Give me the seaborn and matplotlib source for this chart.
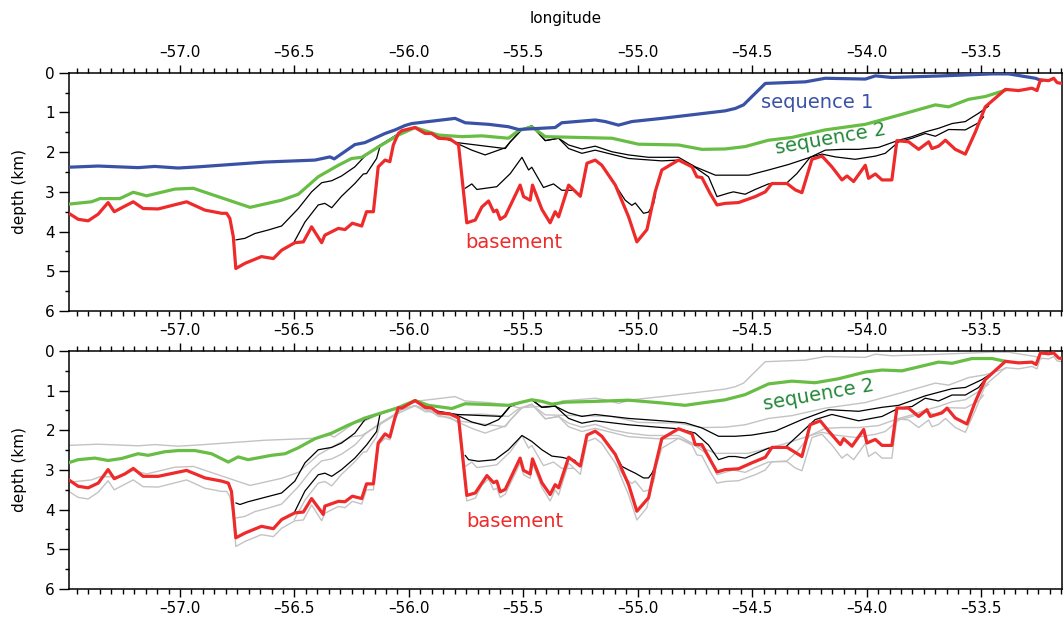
import matplotlib
matplotlib.use("Agg")
import matplotlib.pyplot as plt
from matplotlib.ticker import MultipleLocator
import pandas as pd
import seaborn as sns

# ---- data: (longitude, depth km) ----
top_seq1 = [(-57.488, 2.38), (-57.357, 2.35), (-57.183, 2.39), (-57.110, 2.36), (-57.008, 2.40),
            (-56.920, 2.37), (-56.775, 2.31), (-56.629, 2.25), (-56.410, 2.20), (-56.345, 2.12),
            (-56.326, 2.17), (-56.236, 1.81), (-56.192, 1.76), (-56.104, 1.53), (-56.060, 1.44),
            (-56.017, 1.33), (-55.987, 1.28), (-55.885, 1.21), (-55.798, 1.15), (-55.754, 1.26),
            (-55.652, 1.30), (-55.565, 1.36), (-55.521, 1.43), (-55.361, 1.38), (-55.332, 1.26),
            (-55.186, 1.19), (-55.142, 1.23), (-55.084, 1.32), (-55.026, 1.23), (-54.895, 1.15),
            (-54.749, 1.05), (-54.618, 0.96), (-54.574, 0.90), (-54.538, 0.81), (-54.443, 0.27),
            (-54.356, 0.25), (-54.268, 0.23), (-54.181, 0.14), (-54.006, 0.16), (-53.962, 0.08),
            (-53.890, 0.12), (-53.671, 0.08), (-53.452, 0.03), (-53.380, 0.03), (-53.263, 0.14),
            (-53.235, 0.20)]

top_seq2 = [(-57.488, 3.31), (-57.386, 3.25), (-57.350, 3.17), (-57.263, 3.17), (-57.204, 3.01),
            (-57.146, 3.10), (-57.022, 2.93), (-56.942, 2.91), (-56.694, 3.39), (-56.556, 3.21),
            (-56.483, 3.06), (-56.396, 2.62), (-56.308, 2.33), (-56.250, 2.16), (-56.206, 2.13),
            (-56.119, 1.82), (-56.046, 1.57), (-55.973, 1.38), (-55.871, 1.57), (-55.769, 1.61),
            (-55.681, 1.59), (-55.565, 1.65), (-55.521, 1.46), (-55.463, 1.36), (-55.404, 1.61),
            (-55.186, 1.64), (-55.113, 1.65), (-54.997, 1.80), (-54.822, 1.82), (-54.720, 1.93),
            (-54.618, 1.92), (-54.531, 1.86), (-54.429, 1.70), (-54.327, 1.63), (-54.181, 1.44),
            (-54.006, 1.30), (-53.860, 1.07), (-53.700, 0.81), (-53.642, 0.86), (-53.555, 0.67),
            (-53.482, 0.60), (-53.394, 0.44)]

top_base = [(-57.488, 3.53), (-57.445, 3.69), (-57.401, 3.73), (-57.357, 3.56), (-57.314, 3.27),
            (-57.287, 3.50), (-57.241, 3.36), (-57.204, 3.25), (-57.161, 3.42), (-57.095, 3.43),
            (-56.971, 3.25), (-56.891, 3.46), (-56.818, 3.54), (-56.796, 3.54), (-56.782, 3.67),
            (-56.767, 4.13), (-56.756, 4.93), (-56.716, 4.80), (-56.644, 4.63), (-56.592, 4.68),
            (-56.556, 4.47), (-56.498, 4.28), (-56.461, 4.26), (-56.425, 3.88), (-56.381, 4.28),
            (-56.367, 4.09), (-56.308, 3.92), (-56.279, 3.95), (-56.247, 3.79), (-56.206, 3.86),
            (-56.185, 3.50), (-56.155, 3.50), (-56.134, 2.37), (-56.104, 2.20), (-56.083, 2.24),
            (-56.068, 1.82), (-56.046, 1.53), (-56.031, 1.46), (-55.973, 1.38), (-55.929, 1.53),
            (-55.900, 1.53), (-55.871, 1.65), (-55.820, 1.67), (-55.783, 1.82), (-55.747, 3.78),
            (-55.710, 3.71), (-55.681, 3.38), (-55.652, 3.23), (-55.630, 3.50), (-55.616, 3.46),
            (-55.601, 3.69), (-55.579, 3.61), (-55.514, 2.83), (-55.499, 3.12), (-55.470, 3.21),
            (-55.460, 2.83), (-55.419, 3.44), (-55.383, 3.78), (-55.361, 3.50), (-55.346, 3.63),
            (-55.302, 2.83), (-55.251, 3.11), (-55.222, 2.28), (-55.186, 2.20), (-55.157, 2.33),
            (-55.098, 2.83), (-55.040, 3.63), (-55.004, 4.26), (-54.960, 3.95), (-54.924, 3.00),
            (-54.895, 2.45), (-54.822, 2.20), (-54.763, 2.37), (-54.742, 2.62), (-54.720, 2.64),
            (-54.684, 3.04), (-54.654, 3.33), (-54.618, 3.29), (-54.560, 3.27), (-54.487, 3.12),
            (-54.443, 3.00), (-54.414, 2.79), (-54.348, 2.79), (-54.312, 2.95), (-54.283, 3.02),
            (-54.239, 2.18), (-54.195, 2.10), (-54.152, 2.37), (-54.108, 2.70), (-54.086, 2.60),
            (-54.057, 2.74), (-54.006, 2.33), (-53.992, 2.66), (-53.962, 2.55), (-53.933, 2.70),
            (-53.890, 2.70), (-53.868, 1.71), (-53.817, 1.74), (-53.773, 1.93), (-53.729, 1.74),
            (-53.715, 1.91), (-53.686, 1.85), (-53.656, 1.70), (-53.613, 1.93), (-53.569, 2.05),
            (-53.525, 1.49), (-53.482, 0.86), (-53.394, 0.42), (-53.336, 0.45), (-53.278, 0.39),
            (-53.256, 0.45), (-53.241, 0.18), (-53.205, 0.20), (-53.183, 0.14), (-53.168, 0.25),
            (-53.147, 0.27)]

top_h1 = [(-56.756, 4.21), (-56.716, 4.17), (-56.673, 4.05), (-56.614, 3.96), (-56.556, 3.86),
          (-56.483, 3.42), (-56.425, 3.00), (-56.381, 2.77), (-56.337, 2.72), (-56.294, 2.60),
          (-56.236, 2.37), (-56.192, 2.10), (-56.134, 1.85), (-56.046, 1.54), (-56.031, 1.48),
          (-55.973, 1.38)]
top_h2 = [(-56.501, 4.26), (-56.454, 3.76), (-56.396, 3.33), (-56.367, 3.29), (-56.337, 3.40),
          (-56.294, 3.11), (-56.236, 2.79), (-56.199, 2.55), (-56.185, 2.54), (-56.141, 2.16),
          (-56.126, 1.85), (-56.046, 1.54)]
top_h3 = [(-55.973, 1.38), (-55.871, 1.61), (-55.790, 1.76), (-55.579, 1.91), (-55.557, 1.74),
          (-55.506, 1.43), (-55.463, 1.34), (-55.404, 1.71), (-55.346, 1.65), (-55.302, 1.82),
          (-55.244, 1.92), (-55.186, 1.85), (-55.113, 1.99), (-55.040, 2.07), (-54.953, 2.13),
          (-54.822, 2.13), (-54.749, 2.37), (-54.661, 2.58), (-54.574, 2.58), (-54.516, 2.58),
          (-54.429, 2.45), (-54.341, 2.31), (-54.247, 2.13), (-54.181, 1.95), (-54.108, 1.93),
          (-54.035, 1.93), (-53.948, 1.88), (-53.860, 1.70), (-53.802, 1.61), (-53.744, 1.49),
          (-53.686, 1.40), (-53.627, 1.28), (-53.569, 1.23), (-53.511, 1.02), (-53.467, 0.84)]
top_h4 = [(-55.790, 1.78), (-55.725, 1.95), (-55.667, 2.07), (-55.579, 1.89), (-55.557, 1.74),
          (-55.506, 1.43), (-55.463, 1.34), (-55.404, 1.71), (-55.346, 1.65), (-55.302, 1.91),
          (-55.244, 2.03), (-55.186, 1.95), (-55.040, 2.16), (-54.895, 2.22), (-54.822, 2.20),
          (-54.763, 2.33), (-54.691, 2.62), (-54.654, 3.12), (-54.603, 3.03), (-54.582, 3.00),
          (-54.531, 3.06), (-54.487, 2.94), (-54.429, 2.80), (-54.348, 2.77), (-54.305, 2.54),
          (-54.247, 2.13), (-54.195, 2.05), (-54.137, 2.12), (-54.050, 2.18), (-53.962, 2.10),
          (-53.919, 2.03), (-53.860, 1.74), (-53.802, 1.65), (-53.744, 1.53), (-53.700, 1.60),
          (-53.642, 1.43), (-53.569, 1.44), (-53.511, 1.26), (-53.489, 1.11)]
top_h5 = [(-55.754, 2.91), (-55.725, 2.80), (-55.703, 2.94), (-55.616, 2.87), (-55.557, 2.54),
          (-55.506, 2.13), (-55.477, 2.45), (-55.463, 2.38), (-55.412, 2.89), (-55.368, 2.80),
          (-55.332, 2.96), (-55.281, 2.96)]
top_h6 = [(-55.098, 2.83), (-55.055, 3.21), (-55.026, 3.34), (-55.011, 3.28), (-54.975, 3.54),
          (-54.953, 3.51), (-54.931, 3.30), (-54.922, 3.05)]

bot_seq2 = [(-57.488, 2.82), (-57.445, 2.74), (-57.372, 2.70), (-57.314, 2.76), (-57.255, 2.71),
            (-57.183, 2.59), (-57.139, 2.63), (-57.066, 2.54), (-57.008, 2.51), (-56.935, 2.51),
            (-56.862, 2.59), (-56.789, 2.80), (-56.746, 2.67), (-56.702, 2.74), (-56.600, 2.63),
            (-56.541, 2.59), (-56.483, 2.44), (-56.410, 2.21), (-56.337, 2.07), (-56.265, 1.87),
            (-56.192, 1.69), (-56.119, 1.56), (-56.046, 1.43), (-55.973, 1.25), (-55.914, 1.37),
            (-55.812, 1.45), (-55.754, 1.33), (-55.652, 1.35), (-55.565, 1.37), (-55.463, 1.23),
            (-55.419, 1.27), (-55.375, 1.34), (-55.317, 1.29), (-55.186, 1.27), (-55.040, 1.24),
            (-54.895, 1.31), (-54.793, 1.37), (-54.720, 1.31), (-54.618, 1.23), (-54.531, 1.10),
            (-54.429, 0.83), (-54.327, 0.76), (-54.225, 0.80), (-54.123, 0.70), (-54.006, 0.53),
            (-53.933, 0.48), (-53.846, 0.50), (-53.686, 0.28), (-53.627, 0.31), (-53.540, 0.19),
            (-53.452, 0.19), (-53.394, 0.26)]

bot_base = [(-57.488, 3.24), (-57.445, 3.41), (-57.401, 3.45), (-57.357, 3.33), (-57.314, 2.99),
            (-57.287, 3.22), (-57.241, 3.10), (-57.204, 2.96), (-57.161, 3.16), (-57.095, 3.16),
            (-56.971, 3.01), (-56.891, 3.20), (-56.818, 3.28), (-56.789, 3.33), (-56.775, 3.54),
            (-56.756, 4.71), (-56.716, 4.59), (-56.644, 4.42), (-56.592, 4.48), (-56.556, 4.25),
            (-56.498, 4.08), (-56.461, 4.06), (-56.425, 3.72), (-56.374, 4.12), (-56.367, 3.91),
            (-56.308, 3.79), (-56.279, 3.80), (-56.247, 3.66), (-56.206, 3.72), (-56.185, 3.35),
            (-56.155, 3.35), (-56.134, 2.32), (-56.104, 2.09), (-56.083, 2.17), (-56.061, 1.69),
            (-56.046, 1.43), (-56.031, 1.44), (-55.973, 1.25), (-55.929, 1.42), (-55.900, 1.44),
            (-55.871, 1.56), (-55.820, 1.59), (-55.783, 1.69), (-55.747, 3.64), (-55.710, 3.58),
            (-55.659, 3.14), (-55.630, 3.32), (-55.616, 3.28), (-55.601, 3.55), (-55.579, 3.49),
            (-55.514, 2.70), (-55.499, 3.01), (-55.470, 3.10), (-55.460, 2.72), (-55.419, 3.32),
            (-55.383, 3.62), (-55.361, 3.37), (-55.346, 3.45), (-55.302, 2.68), (-55.251, 2.90),
            (-55.222, 2.12), (-55.186, 2.02), (-55.157, 2.15), (-55.098, 2.61), (-55.040, 3.37),
            (-55.004, 4.04), (-54.953, 3.70), (-54.924, 2.91), (-54.895, 2.21), (-54.822, 1.96),
            (-54.763, 2.09), (-54.749, 2.36), (-54.720, 2.36), (-54.684, 2.74), (-54.654, 3.05),
            (-54.618, 2.99), (-54.560, 2.97), (-54.502, 2.82), (-54.443, 2.68), (-54.414, 2.43),
            (-54.348, 2.43), (-54.283, 2.66), (-54.247, 1.86), (-54.203, 1.76), (-54.166, 2.02),
            (-54.115, 2.36), (-54.101, 2.21), (-54.064, 2.40), (-54.013, 1.98), (-53.999, 2.32),
            (-53.962, 2.23), (-53.933, 2.38), (-53.890, 2.38), (-53.868, 1.44), (-53.817, 1.44),
            (-53.773, 1.65), (-53.737, 1.48), (-53.722, 1.65), (-53.671, 1.56), (-53.649, 1.44),
            (-53.613, 1.69), (-53.562, 1.84), (-53.525, 1.27), (-53.482, 0.72), (-53.394, 0.26),
            (-53.336, 0.30), (-53.278, 0.28), (-53.260, 0.34), (-53.241, 0.05), (-53.205, 0.07),
            (-53.183, 0.05), (-53.161, 0.18), (-53.144, 0.19)]

bot_h1 = [(-56.756, 3.83), (-56.738, 3.87), (-56.702, 3.80), (-56.629, 3.69), (-56.556, 3.58),
          (-56.498, 3.28), (-56.454, 2.82), (-56.396, 2.49), (-56.337, 2.43), (-56.294, 2.32),
          (-56.236, 2.07), (-56.192, 1.73), (-56.134, 1.59), (-56.046, 1.43), (-55.973, 1.25)]
bot_h2 = [(-56.501, 4.08), (-56.454, 3.53), (-56.396, 3.12), (-56.367, 3.08), (-56.337, 3.16),
          (-56.294, 2.99), (-56.236, 2.70), (-56.185, 2.37), (-56.141, 2.03), (-56.126, 1.59),
          (-56.046, 1.43)]
bot_h3 = [(-55.973, 1.25), (-55.871, 1.52), (-55.790, 1.60), (-55.594, 1.65), (-55.557, 1.39),
          (-55.506, 1.29), (-55.463, 1.23), (-55.419, 1.42), (-55.361, 1.39), (-55.302, 1.56),
          (-55.244, 1.65), (-55.186, 1.60), (-55.040, 1.70), (-54.895, 1.76), (-54.793, 1.81),
          (-54.720, 1.94), (-54.647, 2.15), (-54.574, 2.15), (-54.502, 2.12), (-54.399, 2.02),
          (-54.283, 1.73), (-54.166, 1.48), (-54.035, 1.52), (-53.933, 1.42), (-53.860, 1.37),
          (-53.744, 1.13), (-53.627, 0.95), (-53.569, 0.92), (-53.496, 0.72), (-53.467, 0.61)]
bot_h4 = [(-55.790, 1.62), (-55.725, 1.79), (-55.667, 1.88), (-55.608, 1.73), (-55.557, 1.39),
          (-55.506, 1.29), (-55.463, 1.23), (-55.419, 1.42), (-55.361, 1.39), (-55.302, 1.70),
          (-55.244, 1.82), (-55.186, 1.76), (-55.040, 1.86), (-54.895, 1.93), (-54.822, 1.96),
          (-54.749, 2.07), (-54.691, 2.37), (-54.647, 2.74), (-54.603, 2.66), (-54.574, 2.66),
          (-54.531, 2.70), (-54.429, 2.45), (-54.356, 2.43), (-54.225, 1.73), (-54.152, 1.60),
          (-54.035, 1.76), (-53.933, 1.65), (-53.860, 1.44), (-53.802, 1.40), (-53.744, 1.19),
          (-53.686, 1.26), (-53.627, 1.11), (-53.569, 1.11), (-53.511, 0.92), (-53.489, 0.76)]
bot_h5 = [(-55.754, 2.63), (-55.739, 2.74), (-55.696, 2.78), (-55.623, 2.74), (-55.565, 2.49),
          (-55.506, 2.13), (-55.463, 2.28), (-55.419, 2.49), (-55.375, 2.65), (-55.332, 2.68),
          (-55.273, 2.76)]
bot_h6 = [(-55.098, 2.61), (-55.069, 2.91), (-55.040, 3.00), (-55.011, 3.08), (-54.975, 3.20),
          (-54.953, 3.20), (-54.938, 3.08), (-54.927, 2.95)]

xtick_vals = [-57.0, -56.5, -56.0, -55.5, -55.0, -54.5, -54.0, -53.5]
xtick_labels = ["\u201357.0", "\u201356.5", "\u201356.0", "\u201355.5",
                "\u201355.0", "\u201354.5", "\u201354.0", "\u201353.5"]
ytick_vals = [0, 1, 2, 3, 4, 5, 6]

BLUE = "#3a52a6"
GREEN = "#68bd45"
GREEN_TXT = "#23873a"
RED = "#ee2a2a"
GREY = "#c3c3c3"

sns.set_style("ticks")
plt.rcParams["font.family"] = ["DejaVu Sans"]
plt.rcParams["font.size"] = 11
plt.rcParams["text.color"] = "black"
plt.rcParams["axes.labelcolor"] = "black"
plt.rcParams["axes.edgecolor"] = "black"
plt.rcParams["xtick.color"] = "black"
plt.rcParams["ytick.color"] = "black"


def draw(ax, pts, color, lw, z):
    df = pd.DataFrame(pts, columns=["lon", "depth"])
    sns.lineplot(data=df, x="lon", y="depth", ax=ax, color=color, lw=lw,
                 sort=False, estimator=None, zorder=z)


def style_axes(ax, label_top, label_bottom):
    ax.set_xlim(-57.485, -53.145)
    ax.set_ylim(6, 0)
    ax.set_xticks(xtick_vals)
    ax.set_xticklabels(xtick_labels)
    ax.set_yticks(ytick_vals)
    ax.xaxis.set_minor_locator(MultipleLocator(0.05))
    ax.yaxis.set_minor_locator(MultipleLocator(0.5))
    ax.tick_params(axis="x", which="both", direction="out", top=True, bottom=True,
                   labeltop=label_top, labelbottom=label_bottom, labelsize=11, width=1,
                   colors="black")
    ax.tick_params(axis="x", which="major", length=6, pad=3)
    ax.tick_params(axis="x", which="minor", length=3.5)
    ax.tick_params(axis="y", which="both", direction="out", left=True, right=False,
                   labelsize=11, width=1, colors="black")
    ax.tick_params(axis="y", which="major", length=7, pad=3)
    ax.tick_params(axis="y", which="minor", length=3)
    for s in ax.spines.values():
        s.set_visible(True)
        s.set_linewidth(1.1)
        s.set_color("black")
    ax.set_ylabel("depth (km)", fontsize=11, labelpad=13, color="black")
    ax.set_xlabel("")


fig = plt.figure(figsize=(10.64, 6.23), dpi=100)
ax1 = fig.add_axes([0.0648, 0.5008, 0.9337, 0.3825])
ax2 = fig.add_axes([0.0648, 0.0546, 0.9337, 0.3820])

# top panel
for h in [top_h1, top_h2, top_h3, top_h4, top_h5, top_h6]:
    draw(ax1, h, "black", 0.9, 3)
draw(ax1, top_seq1, BLUE, 2.3, 5)
draw(ax1, top_seq2, GREEN, 2.3, 4)
draw(ax1, top_base, RED, 2.3, 6)
ax1.text(-54.216, 0.74, "sequence 1", color=BLUE, fontsize=14, ha="center", va="center")
ax1.text(-54.159, 1.67, "sequence 2", color=GREEN_TXT, fontsize=14, ha="center",
         va="center", rotation=10)
ax1.text(-55.540, 4.27, "basement", color=RED, fontsize=14, ha="center", va="center")
style_axes(ax1, True, False)
ax1.xaxis.set_label_position("top")
ax1.set_xlabel("longitude", fontsize=11, labelpad=16, color="black")

# bottom panel: first-panel horizons in grey underneath
for g in [top_seq1, top_seq2, top_base, top_h1, top_h2, top_h3, top_h4, top_h5, top_h6]:
    draw(ax2, g, GREY, 1.0, 2)
for h in [bot_h1, bot_h2, bot_h3, bot_h4, bot_h5, bot_h6]:
    draw(ax2, h, "black", 0.9, 3)
draw(ax2, bot_seq2, GREEN, 2.3, 4)
draw(ax2, bot_base, RED, 2.3, 6)
ax2.text(-54.211, 1.11, "sequence 2", color=GREEN_TXT, fontsize=14, ha="center",
         va="center", rotation=10)
ax2.text(-55.536, 4.29, "basement", color=RED, fontsize=14, ha="center", va="center")
style_axes(ax2, True, True)

fig.savefig("out.png", dpi=100)
